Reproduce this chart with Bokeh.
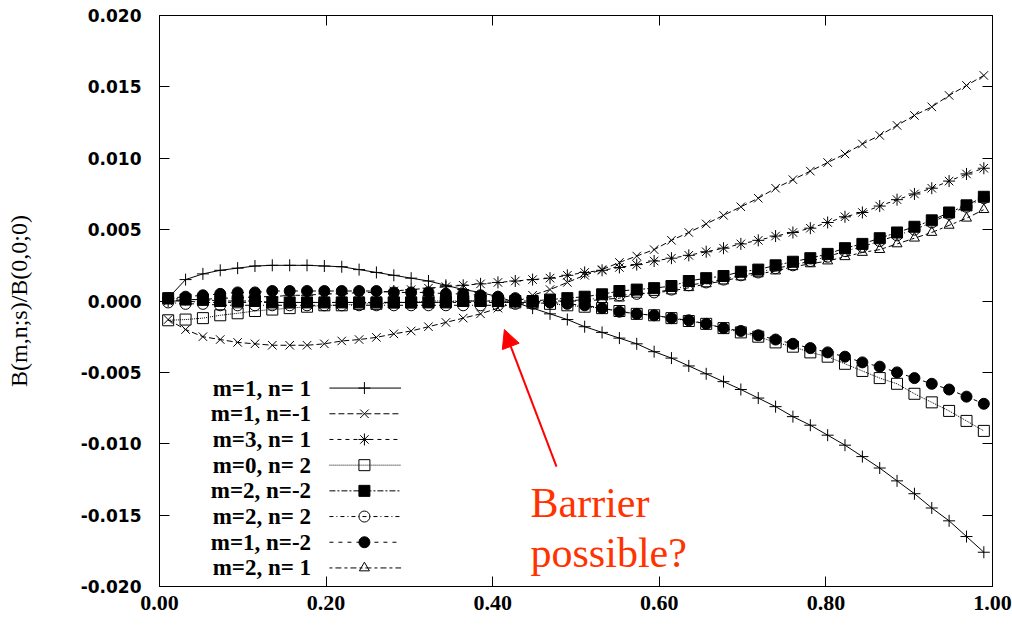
from bokeh.plotting import figure
from bokeh.models import (Range1d, FixedTicker, LinearAxis, Label, Arrow, NormalHead)
from bokeh.embed import file_html
from bokeh.resources import INLINE

# radial coordinate s (normalised flux)
S = [0.0104, 0.0313, 0.0521, 0.0729, 0.0938, 0.1146, 0.1354, 0.1563,
     0.1771, 0.1979, 0.2188, 0.2396, 0.2604, 0.2813, 0.3021, 0.3229,
     0.3438, 0.3646, 0.3854, 0.4063, 0.4271, 0.4479, 0.4688, 0.4896,
     0.5104, 0.5313, 0.5521, 0.5729, 0.5938, 0.6146, 0.6354, 0.6563,
     0.6771, 0.6979, 0.7188, 0.7396, 0.7604, 0.7813, 0.8021, 0.8229,
     0.8438, 0.8646, 0.8854, 0.9063, 0.9271, 0.9479, 0.9688, 0.9896]

# B(m,n;s)/B(0,0;0) for each Fourier mode
B_m1_n1 = [0.0002, 0.0015, 0.0019, 0.00215, 0.0023, 0.00245, 0.0025, 0.0025,
           0.0025, 0.00245, 0.0024, 0.0022, 0.0020, 0.0018, 0.0016, 0.0014,
           0.0011, 0.0008, 0.0006, 0.0003, -0.0001, -0.0005, -0.0009, -0.0013,
           -0.0018, -0.0022, -0.0026, -0.0030, -0.00355, -0.0040, -0.00455, -0.0051,
           -0.00565, -0.0062, -0.0068, -0.0074, -0.0081, -0.0087, -0.0094, -0.0101,
           -0.0109, -0.0117, -0.0126, -0.0135, -0.0145, -0.0154, -0.0165, -0.0176]
B_m1_nm1 = [-0.0013, -0.0020, -0.0025, -0.0027, -0.0029, -0.0030, -0.0031, -0.0031,
            -0.0031, -0.0030, -0.0028, -0.0027, -0.00255, -0.0023, -0.0021, -0.0018,
            -0.0015, -0.0012, -0.0009, -0.0005, -0.0001, 0.0004, 0.0008, 0.0013,
            0.0018, 0.0022, 0.0027, 0.00315, 0.0036, 0.00425, 0.0048, 0.0054,
            0.0060, 0.0066, 0.0072, 0.0079, 0.0085, 0.0091, 0.0097, 0.0103,
            0.0110, 0.0116, 0.0123, 0.0130, 0.0136, 0.0144, 0.0151, 0.0158]
B_m3_n1 = [0.0000, 0.0001, 0.0001, 0.0002, 0.0002, 0.0003, 0.0003, 0.0004,
           0.0004, 0.0005, 0.0005, 0.0006, 0.0006, 0.0007, 0.0008, 0.0009,
           0.0010, 0.0011, 0.0012, 0.0013, 0.0014, 0.0015, 0.0016, 0.0018,
           0.0020, 0.00215, 0.00235, 0.00255, 0.0028, 0.0030, 0.0032, 0.00345,
           0.0037, 0.0040, 0.00425, 0.00455, 0.0048, 0.0051, 0.0055, 0.0059,
           0.0062, 0.00665, 0.0071, 0.0075, 0.0079, 0.0084, 0.0089, 0.0093]
B_m0_n2 = [-0.00135, -0.0013, -0.0012, -0.0010, -0.00086, -0.0007, -0.0006, -0.0005,
           -0.0004, -0.0003, -0.0003, -0.0002, -0.0002, -0.0001, -0.0001, 0.0000,
           0.0000, 0.0000, 0.0000, 0.0000, -0.0001, -0.0001, -0.0002, -0.0003,
           -0.0004, -0.0005, -0.0007, -0.0009, -0.0010, -0.0012, -0.0014, -0.0016,
           -0.0019, -0.0022, -0.0025, -0.0029, -0.0032, -0.0036, -0.0039, -0.0044,
           -0.0049, -0.0054, -0.0058, -0.0065, -0.0071, -0.0077, -0.0084, -0.0091]
B_m2_nm2 = [0.0002, 0.0001, 0.0001, 0.0000, 0.0000, 0.0000, -0.0001, -0.0001,
            -0.0001, -0.0001, -0.0001, -0.0001, -0.0001, -0.0001, -0.0001, -0.0001,
            -0.0001, 0.0000, 0.0000, 0.0000, 0.0000, 0.0000, 0.0001, 0.0002,
            0.0003, 0.00047, 0.0007, 0.0008, 0.0009, 0.00105, 0.0014, 0.0016,
            0.00175, 0.00205, 0.0022, 0.0025, 0.00275, 0.0030, 0.0033, 0.0037,
            0.0040, 0.0044, 0.0048, 0.0052, 0.00565, 0.0062, 0.0067, 0.0073]
B_m2_n2 = [-0.0001, -0.0002, -0.0002, -0.0003, -0.0003, -0.0003, -0.0003, -0.0003,
           -0.0003, -0.0003, -0.0003, -0.0003, -0.0003, -0.0003, -0.0003, -0.0003,
           -0.0003, -0.0003, -0.0003, -0.0003, -0.0002, -0.0002, -0.0001, 0.0000,
           0.0001, 0.0002, 0.0004, 0.0005, 0.0006, 0.0008, 0.0011, 0.0013,
           0.0015, 0.0018, 0.0020, 0.0023, 0.0025, 0.0028, 0.0031, 0.0035,
           0.0038, 0.0042, 0.0046, 0.0050, 0.0055, 0.0061, 0.0066, 0.0072]
B_m1_nm2 = [0.0002, 0.0003, 0.0004, 0.0005, 0.0006, 0.0006, 0.0007, 0.0007,
            0.0007, 0.0007, 0.0007, 0.0007, 0.0007, 0.0006, 0.0006, 0.0006,
            0.0005, 0.0005, 0.0004, 0.0003, 0.0002, 0.0000, -0.0001, -0.0002,
            -0.0003, -0.0005, -0.00075, -0.0009, -0.0010, -0.0012, -0.00135, -0.0016,
            -0.0019, -0.0021, -0.0024, -0.0027, -0.0030, -0.0033, -0.0036, -0.0039,
            -0.0043, -0.0046, -0.0050, -0.0054, -0.0058, -0.0062, -0.0067, -0.0072]
B_m2_n1 = [0.0000, 0.0000, -0.0001, -0.0001, -0.0001, -0.0001, -0.0001, -0.0001,
           -0.0001, -0.0001, -0.0001, -0.0001, -0.0001, -0.0001, -0.0001, -0.0001,
           -0.0001, -0.0001, -0.0001, -0.0001, -0.0001, -0.0001, 0.0000, 0.0000,
           0.0000, 0.0001, 0.0002, 0.00047, 0.00058, 0.0007, 0.00093, 0.0012,
           0.0014, 0.00168, 0.0019, 0.0021, 0.0024, 0.0026, 0.0028, 0.0031,
           0.0034, 0.0036, 0.0040, 0.0044, 0.0048, 0.0053, 0.0058, 0.0064]

SERIES_LABELS = ["m=1, n= 1", "m=1, n=-1", "m=3, n= 1", "m=0, n= 2",
                 "m=2, n=-2", "m=2, n= 2", "m=1, n=-2", "m=2, n= 1"]
SERIES_VALUES = [B_m1_n1, B_m1_nm1, B_m3_n1, B_m0_n2,
                 B_m2_nm2, B_m2_n2, B_m1_nm2, B_m2_n1]

X_TICKS = [0.0, 0.2, 0.4, 0.6, 0.8, 1.0]
X_TICK_LABELS = ["0.00", "0.20", "0.40", "0.60", "0.80", "1.00"]
Y_TICKS = [-0.020, -0.015, -0.010, -0.005, 0.0, 0.005, 0.010, 0.015, 0.020]
Y_TICK_LABELS = ["-0.020", "-0.015", "-0.010", "-0.005", "0.000",
                 "0.005", "0.010", "0.015", "0.020"]

# line dash and marker style of each mode (gnuplot-like point types)
STYLES = [
    dict(dash="solid",     marker="cross",    size=12, fill=None),
    dict(dash="6 3",       marker="x",        size=12, fill=None),
    dict(dash="4 4",       marker="asterisk", size=12, fill=None),
    dict(dash="1 1",       marker="square",   size=11, fill=None),
    dict(dash="6 2 2 2",   marker="square",   size=11, fill="black"),
    dict(dash="4 3 1 3",   marker="circle",   size=11, fill=None),
    dict(dash="4 5",       marker="circle",   size=11, fill="black"),
    dict(dash="3 3 6 3",   marker="triangle", size=10, fill=None),
]

p = figure(width=1012, height=632, output_backend="svg", toolbar_location=None,
           x_range=Range1d(0, 1), y_range=Range1d(-0.02, 0.02),
           min_border_left=159, min_border_right=20,
           min_border_top=15, min_border_bottom=46)
p.background_fill_color = "white"
p.border_fill_color = "white"
p.xgrid.visible = False
p.ygrid.visible = False
p.outline_line_color = "black"
p.outline_line_width = 1

xa = p.xaxis[0]
xa.ticker = FixedTicker(ticks=X_TICKS)
xa.major_label_overrides = dict(zip(X_TICKS, X_TICK_LABELS))
xa.major_label_text_font = "Liberation Serif"
xa.major_label_text_font_style = "bold"
xa.major_label_text_font_size = "22px"
xa.major_label_text_color = "black"
xa.major_label_standoff = 9
xa.major_tick_in = 10
xa.major_tick_out = 0
xa.minor_tick_line_color = None
xa.axis_line_color = "black"

ya = p.yaxis[0]
ya.ticker = FixedTicker(ticks=Y_TICKS)
ya.major_label_overrides = dict(zip(Y_TICKS, Y_TICK_LABELS))
ya.major_label_text_font = "DejaVu Sans"
ya.major_label_text_font_style = "bold"
ya.major_label_text_font_size = "17px"
ya.major_label_text_color = "black"
ya.major_label_standoff = 18
ya.major_tick_in = 10
ya.major_tick_out = 0
ya.minor_tick_line_color = None
ya.axis_line_color = "black"
ya.axis_label = "B(m,n;s)/B(0,0;0)"
ya.axis_label_text_font = "Liberation Serif"
ya.axis_label_text_font_style = "normal"
ya.axis_label_text_font_size = "24px"
ya.axis_label_text_color = "black"
ya.axis_label_standoff = 46

# mirrored tick marks on the top and right edges
for side, ticks in (("above", X_TICKS), ("right", Y_TICKS)):
    ax = LinearAxis(ticker=FixedTicker(ticks=ticks),
                    major_tick_in=10, major_tick_out=0,
                    minor_tick_line_color=None, axis_line_color=None,
                    major_label_text_font_size="0px",
                    major_label_text_color=None, major_label_standoff=0)
    p.add_layout(ax, side)

# curves
for vals, st in zip(SERIES_VALUES, STYLES):
    p.line(S, vals, line_color="black", line_width=1, line_dash=st["dash"])
    p.scatter(S, vals, marker=st["marker"], size=st["size"],
              line_color="black", line_width=1, fill_color=st["fill"])

# key: label on the left, line sample with point on the right
LEG_TEXT_X = 0.182
LEG_LINE_X0 = 0.204
LEG_LINE_X1 = 0.290
LEG_MARK_X = 0.246
LEG_Y0 = -0.0061
LEG_DY = 0.0018
for i, (lab, st) in enumerate(zip(SERIES_LABELS, STYLES)):
    yk = LEG_Y0 - i * LEG_DY
    p.add_layout(Label(x=LEG_TEXT_X, y=yk, text=lab, text_align="right",
                       text_baseline="middle", text_font="Liberation Serif",
                       text_font_style="bold", text_font_size="23px",
                       text_color="black"))
    p.line([LEG_LINE_X0, LEG_LINE_X1], [yk, yk], line_color="black",
           line_width=1, line_dash=st["dash"])
    p.scatter([LEG_MARK_X], [yk], marker=st["marker"], size=st["size"],
              line_color="black", line_width=1, fill_color=st["fill"])

# annotation
RED = "#ff3300"
p.add_layout(Label(x=0.4454, y=-0.01415, text="Barrier", text_align="left",
                   text_baseline="alphabetic", text_font="Liberation Serif",
                   text_font_size="42px", text_color=RED))
p.add_layout(Label(x=0.4454, y=-0.01765, text="possible?", text_align="left",
                   text_baseline="alphabetic", text_font="Liberation Serif",
                   text_font_size="42px", text_color=RED))
p.add_layout(Arrow(x_start=0.4766, y_start=-0.0116, x_end=0.4140, y_end=-0.0020,
                   line_color="red", line_width=2,
                   end=NormalHead(size=18, fill_color="red", line_color="red")))

open("out.html", "w").write(file_html(p, INLINE))
